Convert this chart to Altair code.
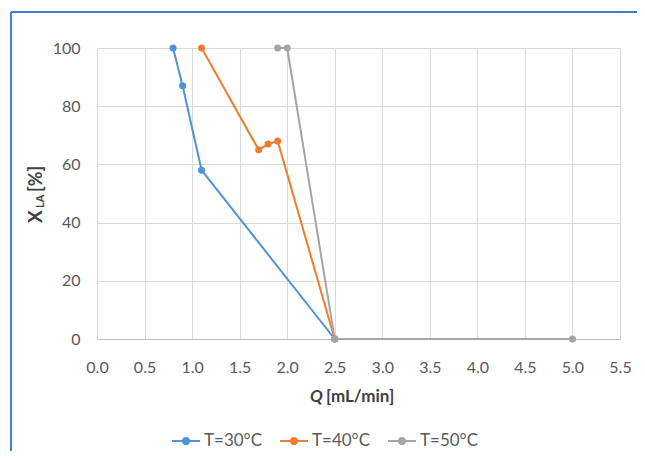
import altair as alt
import pandas as pd

series = ["T=30°C", "T=40°C", "T=50°C"]
colors = ["#4f94d4", "#ed7d31", "#a5a5a5"]

q30 = [0.8, 0.9, 1.1, 2.5]
x30 = [100, 87, 58, 0]
q40 = [1.1, 1.7, 1.8, 1.9, 2.5]
x40 = [100, 65, 67, 68, 0]
q50 = [1.9, 2.0, 2.5, 5.0]
x50 = [100, 100, 0, 0]

x_ticks = [0.0, 0.5, 1.0, 1.5, 2.0, 2.5, 3.0, 3.5, 4.0, 4.5, 5.0, 5.5]
y_ticks = [0, 20, 40, 60, 80, 100]

y_title_parts = ["X", "LA", "[%]"]
x_title_parts = ["Q", "[mL/min]"]

rows = []
for name, qs, xs in [(series[0], q30, x30), (series[1], q40, x40), (series[2], q50, x50)]:
    for i, (q, x) in enumerate(zip(qs, xs)):
        rows.append({"series": name, "Q": q, "X": x, "order": i})
df = pd.DataFrame(rows)

FONT = "Lato"
W, H = 523, 291

xs = alt.X("Q:Q", scale=alt.Scale(domain=[0, 5.5], nice=False),
           axis=alt.Axis(values=x_ticks, format=".1f", title=None, grid=True,
                         gridColor="#d9d9d9", domain=True, domainColor="#bfbfbf",
                         ticks=False, labelPadding=20, labelFontSize=16, labelFlush=False,
                         labelColor="#595959", labelFont=FONT))
ys = alt.Y("X:Q", scale=alt.Scale(domain=[0, 100], nice=False),
           axis=alt.Axis(values=y_ticks, title=None, grid=True, gridColor="#d9d9d9",
                         domain=False, ticks=False, labelPadding=17, labelFontSize=16,
                         labelColor="#595959", labelFont=FONT))
color = alt.Color("series:N", scale=alt.Scale(domain=series, range=colors),
                  legend=alt.Legend(
                      title=None, orient="none", legendX=74, legendY=378,
                      direction="horizontal", padding=0,
                      symbolType="M-1,0L1,0M0.22,0A0.22,0.22,0,1,1,-0.22,0A0.22,0.22,0,1,1,0.22,0Z",
                      symbolSize=784, symbolStrokeWidth=2, labelFontSize=17,
                      labelFont=FONT, labelColor="#595959", columnPadding=13,
                      labelOffset=3))

base = alt.Chart(df)
lines = base.mark_line(strokeWidth=2).encode(
    x=xs, y=ys, color=color, order="order:O", detail="series:N")
points = base.mark_circle(size=50, opacity=1).encode(
    x=xs, y=ys, color=alt.Color("series:N", scale=alt.Scale(domain=series, range=colors), legend=None))

tdf = pd.DataFrame({"a": [0]})
yt1 = alt.Chart(tdf).mark_text(text=y_title_parts[0], angle=270, align="left", baseline="alphabetic",
                               font=FONT, fontSize=19, fontWeight="bold", color="#404040").encode(
    x=alt.value(-55), y=alt.value(175))
yt2 = alt.Chart(tdf).mark_text(text=y_title_parts[1], angle=270, align="left", baseline="alphabetic",
                               font=FONT, fontSize=11, fontWeight="bold", color="#404040").encode(
    x=alt.value(-53), y=alt.value(160))
yt3 = alt.Chart(tdf).mark_text(text=y_title_parts[2], angle=270, align="left", baseline="alphabetic",
                               font=FONT, fontSize=18, fontWeight="bold", color="#404040").encode(
    x=alt.value(-55), y=alt.value(144))
xt1 = alt.Chart(tdf).mark_text(text=x_title_parts[0], align="left", baseline="alphabetic",
                               font=FONT, fontSize=17, fontWeight="bold", fontStyle="italic",
                               color="#404040").encode(x=alt.value(213), y=alt.value(354))
xt2 = alt.Chart(tdf).mark_text(text=x_title_parts[1], align="left", baseline="alphabetic",
                               font=FONT, fontSize=17, fontWeight="bold",
                               color="#404040").encode(x=alt.value(229), y=alt.value(354))

frame_top = alt.Chart(tdf).mark_rule(color="#3a7fc8", strokeWidth=2).encode(
    x=alt.value(-86), x2=alt.value(560), y=alt.value(-36))
frame_left = alt.Chart(tdf).mark_rule(color="#3a7fc8", strokeWidth=2).encode(
    x=alt.value(-86), y=alt.value(-36), y2=alt.value(424))

chart = alt.layer(lines, points, yt1, yt2, yt3, xt1, xt2, frame_top, frame_left).properties(
    width=W, height=H,
    autosize=alt.AutoSizeParams(type="none"),
    padding={"left": 89, "top": 40, "right": 17, "bottom": 112},
    background="white",
).configure_view(stroke=None)

chart.save("out.html", embed_options={"renderer": "svg", "actions": False})
